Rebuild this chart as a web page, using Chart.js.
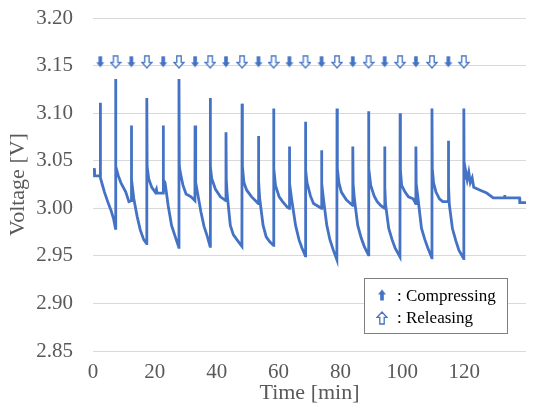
<!DOCTYPE html>
<html>
<head>
<meta charset="utf-8">
<script src="https://cdn.jsdelivr.net/npm/chart.js@4"></script>
<style>
  html, body { margin: 0; padding: 0; background: #fff; }
  #Voltage { display: block; }
</style>
</head>
<body>
<canvas id="Voltage" width="535" height="405"></canvas>
<script>
// time [min] and voltage [V]
const timeMin = [
  0, 0.4, 0.5, 2.3,
  2.35, 2.45, 3.0, 3.7, 4.75, 5.8, 6.65, 7.25,
  7.3, 7.4, 8.2, 9.0, 10.6, 11.6, 12.35,
  12.4, 12.5, 13.2, 14.3, 15.3, 16.4, 17.35,
  17.4, 17.5, 18.0, 19.0, 20.1, 20.5, 20.7, 22.65,
  22.7, 22.8, 23.3, 24.3, 25.4, 26.9, 27.75,
  27.8, 27.9, 28.2, 29.1, 30.1, 31.7, 32.95,
  33.0, 33.1, 33.3, 34.9, 35.9, 37.0, 37.85,
  37.9, 38.0, 38.4, 39.6, 41.2, 42.95,
  43.0, 43.1, 43.4, 44.4, 45.4, 47.0, 48.15,
  48.2, 48.3, 48.8, 49.7, 51.3, 53.45,
  53.5, 53.6, 53.9, 55.0, 56.0, 57.1, 58.35,
  58.4, 58.5, 59.0, 60.2, 61.3, 62.9, 63.45,
  63.5, 63.6, 64.2, 65.5, 66.6, 67.6, 68.65,
  68.7, 68.8, 69.2, 70.3, 71.3, 73.85,
  73.9, 74.0, 74.5, 75.6, 76.6, 77.7, 78.85,
  78.9, 79.0, 79.5, 80.3, 81.9, 83.95,
  84.0, 84.1, 84.5, 85.6, 86.7, 87.7, 89.05,
  89.1, 89.2, 89.8, 90.9, 91.9, 93.0, 94.25,
  94.3, 94.4, 94.6, 95.6, 96.7, 97.7, 99.25,
  99.3, 99.4, 99.8, 100.9, 102.0, 103.5, 104.35,
  104.4, 104.5, 105.1, 106.2, 107.3, 108.3, 109.55,
  109.6, 109.7, 110.1, 110.9, 112.0, 113.1, 114.85,
  114.9, 115.0, 115.2, 116.2, 117.3, 118.3, 119.85,
  119.9, 120.0, 120.4, 121.0, 121.5, 122.0, 122.6, 123.1, 125.2, 127.3,
  129.4, 131.5, 133.0, 133.1, 133.2, 134.7, 137.9, 138.0, 140
];
const voltage = [
  3.041, 3.041, 3.034, 3.034,
  3.111, 3.032, 3.025, 3.017, 3.007, 2.998, 2.989, 2.979,
  3.136, 3.044, 3.034, 3.027, 3.017, 3.007, 3.008,
  3.087, 3.030, 3.010, 2.991, 2.977, 2.967, 2.963,
  3.116, 3.044, 3.031, 3.022, 3.017, 3.020, 3.016, 3.016,
  3.087, 3.030, 3.027, 3.003, 2.982, 2.967, 2.959,
  3.136, 3.045, 3.038, 3.024, 3.015, 3.012, 3.008,
  3.087, 3.030, 3.027, 2.996, 2.981, 2.970, 2.960,
  3.116, 3.044, 3.031, 3.020, 3.012, 3.008,
  3.080, 3.030, 3.014, 2.982, 2.972, 2.965, 2.960,
  3.110, 3.044, 3.027, 3.019, 3.012, 3.005,
  3.076, 3.028, 3.010, 2.982, 2.970, 2.965, 2.961,
  3.105, 3.042, 3.024, 3.012, 3.007, 3.001, 3.000,
  3.065, 3.026, 3.010, 2.982, 2.967, 2.958, 2.950,
  3.091, 3.040, 3.027, 3.013, 3.005, 3.000,
  3.061, 3.026, 3.010, 2.982, 2.967, 2.956, 2.946,
  3.105, 3.042, 3.027, 3.017, 3.009, 3.003,
  3.065, 3.026, 3.010, 2.982, 2.969, 2.960, 2.951,
  3.102, 3.042, 3.024, 3.013, 3.007, 3.003, 3.000,
  3.065, 3.022, 3.004, 2.979, 2.967, 2.958, 2.949,
  3.100, 3.040, 3.024, 3.017, 3.012, 3.010, 3.005,
  3.065, 3.026, 3.010, 2.979, 2.967, 2.958, 2.948,
  3.105, 3.042, 3.027, 3.017, 3.010, 3.007, 3.007,
  3.071, 3.024, 3.004, 2.979, 2.966, 2.956, 2.947,
  3.105, 3.030, 3.041, 3.030, 3.038, 3.027, 3.032, 3.022, 3.019, 3.016,
  3.011, 3.011, 3.011, 3.014, 3.011, 3.011, 3.011, 3.006, 3.006
];

// arrow marks along the top (minutes)
const compressTimes = [2.35, 12.4, 22.7, 33.0, 43.0, 53.5, 63.5, 73.9, 84.0, 94.3, 104.4, 114.9];
const releaseTimes = [7.3, 17.4, 27.8, 37.9, 48.2, 58.4, 68.7, 78.9, 89.1, 99.3, 109.6, 119.9];
const arrowLevel = 3.154;

const blue = '#4472C4';
const gray = '#595959';
const serif = '"Liberation Serif", "Times New Roman", serif';

// small arrow glyphs used as point styles
function makeArrow(up, filled, w, h) {
    const c = document.createElement('canvas');
    c.width = w + 2;
    c.height = h + 2;
    const g = c.getContext('2d');
    if (up) {
        g.translate(0, c.height);
        g.scale(1, -1);
    }
    const sw = filled ? w * 0.45 : w * 0.44;
    const x0 = 1, y0 = 1, mid = x0 + w / 2, neck = y0 + h * 0.55;
    g.beginPath();
    g.moveTo(mid - sw / 2, y0);
    g.lineTo(mid + sw / 2, y0);
    g.lineTo(mid + sw / 2, neck);
    g.lineTo(x0 + w, neck);
    g.lineTo(mid, y0 + h);
    g.lineTo(x0, neck);
    g.lineTo(mid - sw / 2, neck);
    g.closePath();
    if (filled) {
        g.fillStyle = blue;
        g.fill();
    } else {
        g.fillStyle = '#fff';
        g.fill();
        g.strokeStyle = blue;
        g.lineWidth = 1.3;
        g.stroke();
    }
    return c;
}

const downFilled = makeArrow(false, true, 8, 11);
const downHollow = makeArrow(false, false, 10, 12);
const upFilled = makeArrow(true, true, 8, 11);
const upHollow = makeArrow(true, false, 10, 12);

const legendBox = {
    id: 'legendBox',
    afterDraw(chart) {
        const ctx = chart.ctx;
        ctx.save();
        ctx.fillStyle = '#fff';
        ctx.strokeStyle = '#7f7f7f';
        ctx.lineWidth = 1;
        ctx.fillRect(364.5, 278.5, 143, 55);
        ctx.strokeRect(364.5, 278.5, 143, 55);
        ctx.drawImage(upFilled, 382 - upFilled.width / 2, 295 - upFilled.height / 2);
        ctx.drawImage(upHollow, 382 - upHollow.width / 2, 318 - upHollow.height / 2);
        ctx.fillStyle = '#000';
        ctx.font = '17px ' + serif;
        ctx.textBaseline = 'alphabetic';
        ctx.fillText(': Compressing', 397, 301);
        ctx.fillText(': Releasing', 397, 323);
        ctx.restore();
    }
};

const vtx = document.getElementById('Voltage').getContext('2d');
const Voltage = new Chart(vtx, {
    type: 'scatter',
    data: {
        datasets: [{
            label: 'Voltage',
            data: timeMin.map((t, i) => ({ x: t, y: voltage[i] })),
            showLine: true,
            borderColor: blue,
            backgroundColor: blue,
            borderWidth: 2.8,
            pointRadius: 0,
            tension: 0
        }, {
            label: 'Compressing',
            data: compressTimes.map(t => ({ x: t, y: arrowLevel })),
            pointStyle: downFilled,
            pointRadius: 5
        }, {
            label: 'Releasing',
            data: releaseTimes.map(t => ({ x: t, y: arrowLevel })),
            pointStyle: downHollow,
            pointRadius: 5
        }]
    },
    options: {
        responsive: false,
        animation: false,
        devicePixelRatio: 1,
        layout: { padding: { top: 18, right: 0, left: 0, bottom: 0 } },
        plugins: {
            legend: { display: false },
            tooltip: { enabled: false }
        },
        scales: {
            x: {
                type: 'linear',
                min: 0,
                max: 140,
                afterFit: s => { s.height = 54; },
                grid: { display: false, drawTicks: false },
                border: { display: false },
                ticks: {
                    stepSize: 20,
                    autoSkip: false,
                    maxRotation: 0,
                    padding: 9,
                    color: gray,
                    font: { family: serif, size: 21 },
                    callback: v => (v === 140 ? '' : v)
                },
                title: {
                    display: true,
                    text: 'Time [min]',
                    color: gray,
                    font: { family: serif, size: 22, lineHeight: 1 },
                    padding: { top: 0, bottom: 1 }
                }
            },
            y: {
                min: 2.85,
                max: 3.2,
                afterFit: s => {
                    s.width = 93;
                    s.paddingTop = 0;
                    s.paddingBottom = 0;
                },
                grid: { color: '#d9d9d9', drawTicks: false },
                border: { display: false },
                ticks: {
                    stepSize: 0.05,
                    padding: 20,
                    color: gray,
                    font: { family: serif, size: 21 },
                    callback: v => v.toFixed(2)
                },
                title: {
                    display: true,
                    text: 'Voltage [V]',
                    color: gray,
                    font: { family: serif, size: 22, lineHeight: 1 },
                    padding: { top: 7, bottom: 0 }
                }
            }
        }
    },
    plugins: [legendBox]
});
</script>
</body>
</html>
